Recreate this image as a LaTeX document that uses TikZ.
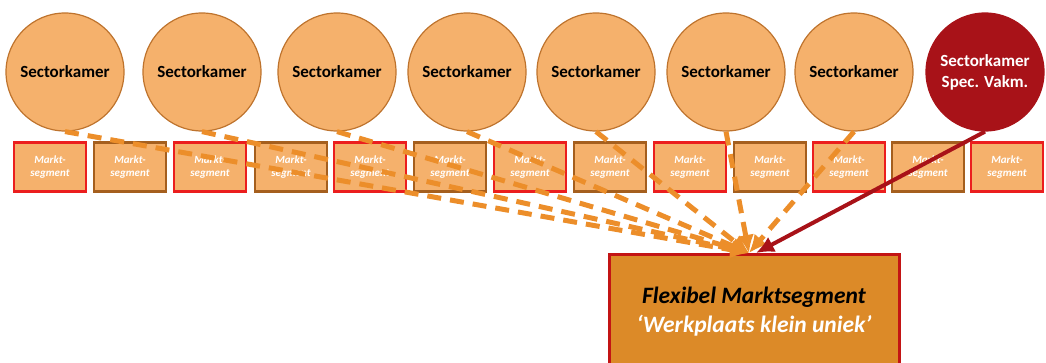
\documentclass[tikz,border=0pt]{standalone}
\usepackage{fontspec}
\setmainfont{Carlito}
\usetikzlibrary{positioning,arrows.meta}
\definecolor{kamerfill}{RGB}{245,177,108}
\definecolor{kamerline}{RGB}{190,115,45}
\definecolor{vakmfill}{RGB}{168,18,24}
\definecolor{segred}{RGB}{235,30,30}
\definecolor{segbrown}{RGB}{165,95,30}
\definecolor{flexfill}{RGB}{220,138,40}
\definecolor{flexline}{RGB}{195,20,20}
\definecolor{linkorange}{RGB}{236,142,42}
\newcommand{\knode}[3]{\node [kamer] (#1) at (#2) {#3}}
\newcommand{\mnode}[3]{\node [markt, draw=#3] (#1) at (#2) {Markt-\\segment}}
\tikzset{
  kamer/.style={circle, draw=kamerline, line width=1.2pt, fill=kamerfill,
    minimum size=118pt, inner sep=0pt, align=center,
    font=\bfseries\fontsize{17}{21}\selectfont},
  markt/.style={rectangle, line width=2.6pt, fill=kamerfill, text=white,
    minimum width=72pt, minimum height=49pt, inner sep=0pt, align=center,
    font=\bfseries\itshape\fontsize{11}{13.5}\selectfont},
  link/.style={->, linkorange, line width=5pt, dash pattern=on 14pt off 9pt},
}

\begin{document}
\begin{tikzpicture}[x=1pt, y=-1pt, >={Latex[length=18pt,width=17pt]}]
\useasboundingbox (0,0) rectangle (1046,363);

\knode{K1}{65,72}{Sectorkamer};
\knode{K2}{202,72}{Sectorkamer};
\knode{K3}{337,72}{Sectorkamer};
\knode{K4}{467,72}{Sectorkamer};
\knode{K5}{596,72}{Sectorkamer};
\knode{K6}{726,72}{Sectorkamer};
\knode{K7}{854,72}{Sectorkamer};
\node [kamer, fill=vakmfill, draw=vakmfill, text=white] (VAKM) at (985,72) {Sectorkamer\\Spec. Vakm.};

\mnode{M1}{50,167}{segred};
\mnode{M2}{130,167}{segbrown};
\mnode{M3}{210,167}{segred};
\mnode{M4}{291,167}{segbrown};
\mnode{M5}{370,167}{segred};
\mnode{M6}{450,167}{segbrown};
\mnode{M7}{530,167}{segred};
\mnode{M8}{610,167}{segbrown};
\mnode{M9}{690,167}{segred};
\mnode{M10}{770,167}{segbrown};
\mnode{M11}{849,167}{segred};
\mnode{M12}{928,167}{segbrown};
\mnode{M13}{1007,167}{segred};

\node [rectangle, draw=flexline, line width=3pt, fill=flexfill,
  minimum width=290pt, minimum height=114pt, anchor=north,
  align=center, font=\bfseries\itshape\fontsize{23.5}{29}\selectfont]
  (FLEX) at (754,253) {Flexibel Marktsegment\\\textcolor{white}{`Werkplaats klein uniek'}};

\draw[link] (K1.south) -- ([xshift=-5pt]FLEX.north);
\draw[link] (K2.south) -- ([xshift=-5pt]FLEX.north);
\draw[link] (K3.south) -- ([xshift=-5pt]FLEX.north);
\draw[link] (K4.south) -- ([xshift=-5pt]FLEX.north);
\draw[link] (K5.south) -- ([xshift=-5pt]FLEX.north);
\draw[link] (K6.south) -- ([xshift=-5pt]FLEX.north);
\draw[link] (K7.south) -- ([xshift=-5pt]FLEX.north);
\draw[->, vakmfill, line width=4pt] (VAKM.south) -- ([xshift=2pt]FLEX.north);

\end{tikzpicture}
\end{document}
